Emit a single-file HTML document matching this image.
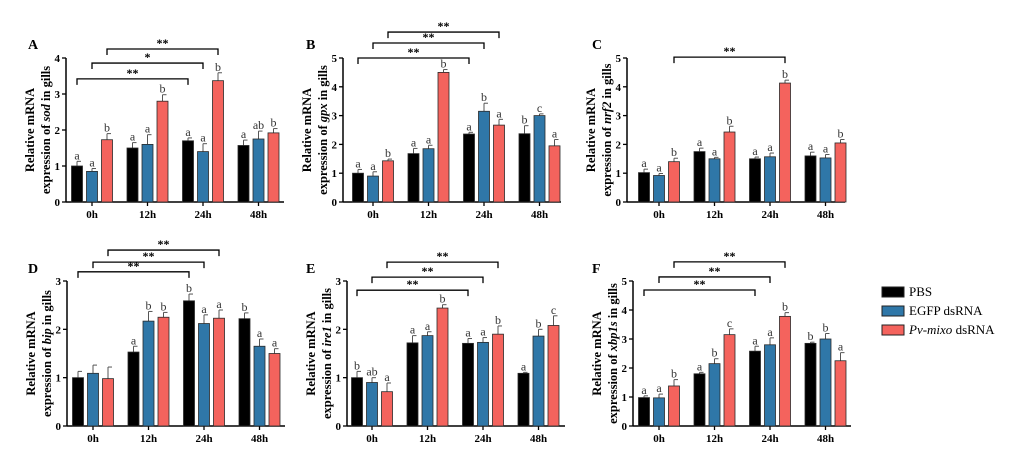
<!DOCTYPE html>
<html><head><meta charset="utf-8">
<style>
html,body{margin:0;padding:0;background:#fff;}
svg{display:block;}
svg text{font-family:"Liberation Serif","DejaVu Serif",serif;}
</style></head>
<body>
<svg id="fig" width="1014" height="455" viewBox="0 0 1014 455" xmlns="http://www.w3.org/2000/svg" font-family="Liberation Serif, serif">
  <g font-size="13">
    <rect x="882" y="287" width="22" height="10" fill="#000" stroke="#222"/>
    <text x="909" y="296" font-family="Liberation Serif, serif">PBS</text>
    <rect x="882" y="306" width="22" height="10" fill="#2f77a8" stroke="#222"/>
    <text x="909" y="315" font-family="Liberation Serif, serif">EGFP dsRNA</text>
    <rect x="882" y="325" width="22" height="10" fill="#f4635d" stroke="#222"/>
    <text x="909" y="334" font-family="Liberation Serif, serif"><tspan font-style="italic">Pv-mixo</tspan> dsRNA</text>
  </g>
</svg>
<script>
const categories = ["0h","12h","24h","48h"];
const seriesNames = ["PBS","EGFP dsRNA","Pv-mixo dsRNA"];
const colors = ["#000000","#2f77a8","#f4635d"];

const sodPBS=[1.0,1.5,1.7,1.57], sodPBSErr=[0.13,0.15,0.08,0.15];
const sodEGFP=[0.85,1.6,1.4,1.75], sodEGFPErr=[0.08,0.27,0.22,0.22];
const sodMixo=[1.73,2.8,3.37,1.92], sodMixoErr=[0.17,0.18,0.22,0.12];
const sodLetters=[["a","a","a","a"],["a","a","a","ab"],["b","b","b","b"]];

const gpxPBS=[1.0,1.68,2.36,2.37], gpxPBSErr=[0.13,0.18,0.06,0.28];
const gpxEGFP=[0.9,1.85,3.15,3.0], gpxEGFPErr=[0.15,0.12,0.28,0.06];
const gpxMixo=[1.43,4.5,2.67,1.95], gpxMixoErr=[0.06,0.1,0.2,0.22];
const gpxLetters=[["a","a","a","b"],["a","a","b","c"],["b","b","a","a"]];

const nrfPBS=[1.02,1.75,1.5,1.6], nrfPBSErr=[0.12,0.12,0.06,0.13];
const nrfEGFP=[0.92,1.5,1.57,1.53], nrfEGFPErr=[0.07,0.05,0.13,0.12];
const nrfMixo=[1.4,2.43,4.13,2.05], nrfMixoErr=[0.12,0.2,0.1,0.12];
const nrfLetters=[["a","a","a","a"],["a","a","a","a"],["b","b","b","b"]];

const bipPBS=[1.0,1.53,2.59,2.22], bipPBSErr=[0.13,0.12,0.14,0.12];
const bipEGFP=[1.09,2.17,2.12,1.65], bipEGFPErr=[0.17,0.2,0.18,0.15];
const bipMixo=[0.98,2.25,2.23,1.5], bipMixoErr=[0.24,0.1,0.17,0.1];
const bipLetters=[["","a","b","b"],["","b","a","a"],["","b","a","a"]];

const irePBS=[1.0,1.72,1.71,1.09], irePBSErr=[0.13,0.15,0.1,0.02];
const ireEGFP=[0.9,1.87,1.73,1.86], ireEGFPErr=[0.1,0.08,0.1,0.14];
const ireMixo=[0.71,2.44,1.9,2.08], ireMixoErr=[0.18,0.07,0.17,0.2];
const ireLetters=[["b","a","a","a"],["ab","a","a","b"],["a","b","b","c"]];

const xbpPBS=[0.98,1.8,2.58,2.85], xbpPBSErr=[0.06,0.05,0.17,0.04];
const xbpEGFP=[0.97,2.15,2.8,3.0], xbpEGFPErr=[0.13,0.17,0.24,0.19];
const xbpMixo=[1.38,3.15,3.78,2.25], xbpMixoErr=[0.22,0.2,0.13,0.28];
const xbpLetters=[["a","a","a","b"],["a","b","a","b"],["b","c","b","a"]];

// brackets: [fromGroup, series, toGroup, series, value level, label]
const sodBrackets=[[0,0,2,0,3.42,"**"],[0,1,2,1,3.86,"*"],[0,2,2,2,4.25,"**"]];
const gpxBrackets=[[0,0,2,0,5.0,"**"],[0,1,2,1,5.52,"**"],[0,2,2,2,5.9,"**"]];
const nrfBrackets=[[0,2,2,2,5.03,"**"]];
const bipBrackets=[[0,0,2,0,3.19,"**"],[0,1,2,1,3.39,"**"],[0,2,2,2,3.64,"**"]];
const ireBrackets=[[0,0,2,0,2.81,"**"],[0,1,2,1,3.08,"**"],[0,2,2,2,3.39,"**"]];
const xbpBrackets=[[0,0,2,0,4.69,"**"],[0,1,2,1,5.14,"**"],[0,2,2,2,5.66,"**"]];

const sodTicks=[0,1,2,3,4], fiveTicks=[0,1,2,3,4,5], threeTicks=[0,1,2,3];

const NS="http://www.w3.org/2000/svg";
const FF="Liberation Serif, DejaVu Serif, serif";
const svg=document.getElementById("fig");
function mk(tag, attrs, parent){
  const e=document.createElementNS(NS,tag);
  for(const k in attrs) e.setAttribute(k, attrs[k]);
  if(tag==="text") e.setAttribute("font-family", FF);
  parent.appendChild(e);
  return e;
}

const panels=[
 {id:"a",letter:"A",gene:"sod",L:66,top:58,bot:202,c0:92,max:4,ticks:sodTicks,vals:[sodPBS,sodEGFP,sodMixo],errs:[sodPBSErr,sodEGFPErr,sodMixoErr],letters:sodLetters,br:sodBrackets,lx:28,ly:49},
 {id:"b",letter:"B",gene:"gpx",L:343,top:58,bot:202,c0:373,max:5,ticks:fiveTicks,vals:[gpxPBS,gpxEGFP,gpxMixo],errs:[gpxPBSErr,gpxEGFPErr,gpxMixoErr],letters:gpxLetters,br:gpxBrackets,lx:306,ly:49},
 {id:"c",letter:"C",gene:"nrf2",L:627,top:58,bot:202,c0:659,max:5,ticks:fiveTicks,vals:[nrfPBS,nrfEGFP,nrfMixo],errs:[nrfPBSErr,nrfEGFPErr,nrfMixoErr],letters:nrfLetters,br:nrfBrackets,lx:592,ly:49},
 {id:"d",letter:"D",gene:"bip",L:67,top:281,bot:426,c0:93,max:3,ticks:threeTicks,vals:[bipPBS,bipEGFP,bipMixo],errs:[bipPBSErr,bipEGFPErr,bipMixoErr],letters:bipLetters,br:bipBrackets,lx:28,ly:273},
 {id:"e",letter:"E",gene:"ire1",L:347,top:281,bot:426,c0:372,max:3,ticks:threeTicks,vals:[irePBS,ireEGFP,ireMixo],errs:[irePBSErr,ireEGFPErr,ireMixoErr],letters:ireLetters,br:ireBrackets,lx:306,ly:273},
 {id:"f",letter:"F",gene:"xbp1s",L:633,top:281,bot:426,c0:659,max:5,ticks:fiveTicks,vals:[xbpPBS,xbpEGFP,xbpMixo],errs:[xbpPBSErr,xbpEGFPErr,xbpMixoErr],letters:xbpLetters,br:xbpBrackets,lx:592,ly:273}
];
const GS=55.5, OFF=15, BW=11;

panels.forEach(p=>{
  const g=mk("g",{},svg);
  
  
  const y=v=>p.bot-(v/p.max)*(p.bot-p.top);
  const x=(gi,si)=>p.c0+gi*GS+(si-1)*OFF;
  const right=p.L+218;

  const lt=mk("text",{x:p.lx,y:p.ly,"font-size":14,"font-weight":"bold"},g);
  lt.textContent=p.letter;
  
  

  const cy=(p.top+p.bot)/2;
  const t1=mk("text",{x:p.L-36,y:cy,"font-size":12.5,"font-weight":"bold","text-anchor":"middle",transform:`rotate(-90 ${p.L-36} ${cy})`,dy:"4"},g);
  t1.textContent="Relative mRNA";
  
  
  const t2=mk("text",{x:p.L-20,y:cy,"font-size":12.5,"font-weight":"bold","text-anchor":"middle",transform:`rotate(-90 ${p.L-20} ${cy})`,dy:"4"},g);
  t2.innerHTML='expression of <tspan font-style="italic">'+p.gene+'</tspan> in gills';
  
  

  const ya=mk("line",{x1:p.L,y1:p.top,x2:p.L,y2:p.bot,stroke:"#000","stroke-width":1.5},g);
  
  
  const xa=mk("line",{x1:p.L,y1:p.bot,x2:right,y2:p.bot,stroke:"#000","stroke-width":1.5},g);
  
  

  p.ticks.forEach(t=>{
    const tk=mk("line",{x1:p.L-4,y1:y(t),x2:p.L,y2:y(t),stroke:"#000","stroke-width":1.3},g);
    
    
    const tl=mk("text",{x:p.L-6,y:y(t)+4,"font-size":11,"font-weight":"bold","text-anchor":"end"},g);
    tl.textContent=t;
    
    
  });

  categories.forEach((c,gi)=>{
    const cx=x(gi,1);
    const tk=mk("line",{x1:cx,y1:p.bot,x2:cx,y2:p.bot+4,stroke:"#000","stroke-width":1.3},g);
    
    
    const tl=mk("text",{x:cx,y:p.bot+16,"font-size":11,"font-weight":"bold","text-anchor":"middle"},g);
    tl.textContent=c;
    
    
    for(let si=0;si<3;si++){
      const v=p.vals[si][gi], e=p.errs[si][gi], bx=x(gi,si);
      const el=mk("line",{x1:bx,y1:y(v),x2:bx,y2:y(v+e),stroke:"#555","stroke-width":1},g);
      
      
      const ec=mk("line",{x1:bx,y1:y(v+e),x2:bx+4,y2:y(v+e),stroke:"#555","stroke-width":1},g);
      
      
      const r=mk("rect",{x:bx-BW/2,y:y(v),width:BW,height:p.bot-y(v),fill:colors[si],stroke:"#2a2a2a","stroke-width":0.8},g);
      
      
      const lt2=p.letters[si][gi];
      if(lt2){
        const tx=mk("text",{x:bx,y:y(v+e)-2,"font-size":12,"text-anchor":"middle",fill:"#333"},g);
        tx.textContent=lt2;
        
        
      }
    }
  });

  p.br.forEach(b=>{
    const x1=x(b[0],b[1]), x2=x(b[2],b[3]), by=y(b[4]);
    const pl=mk("polyline",{points:`${x1},${by+6} ${x1},${by} ${x2},${by} ${x2},${by+6}`,fill:"none",stroke:"#000","stroke-width":1.3},g);
    
    
    const st=mk("text",{x:(x1+x2)/2,y:by-2,"font-size":12,"font-weight":"bold","text-anchor":"middle"},g);
    st.textContent=b[5];
    
    
  });
});
</script>
</body></html>
